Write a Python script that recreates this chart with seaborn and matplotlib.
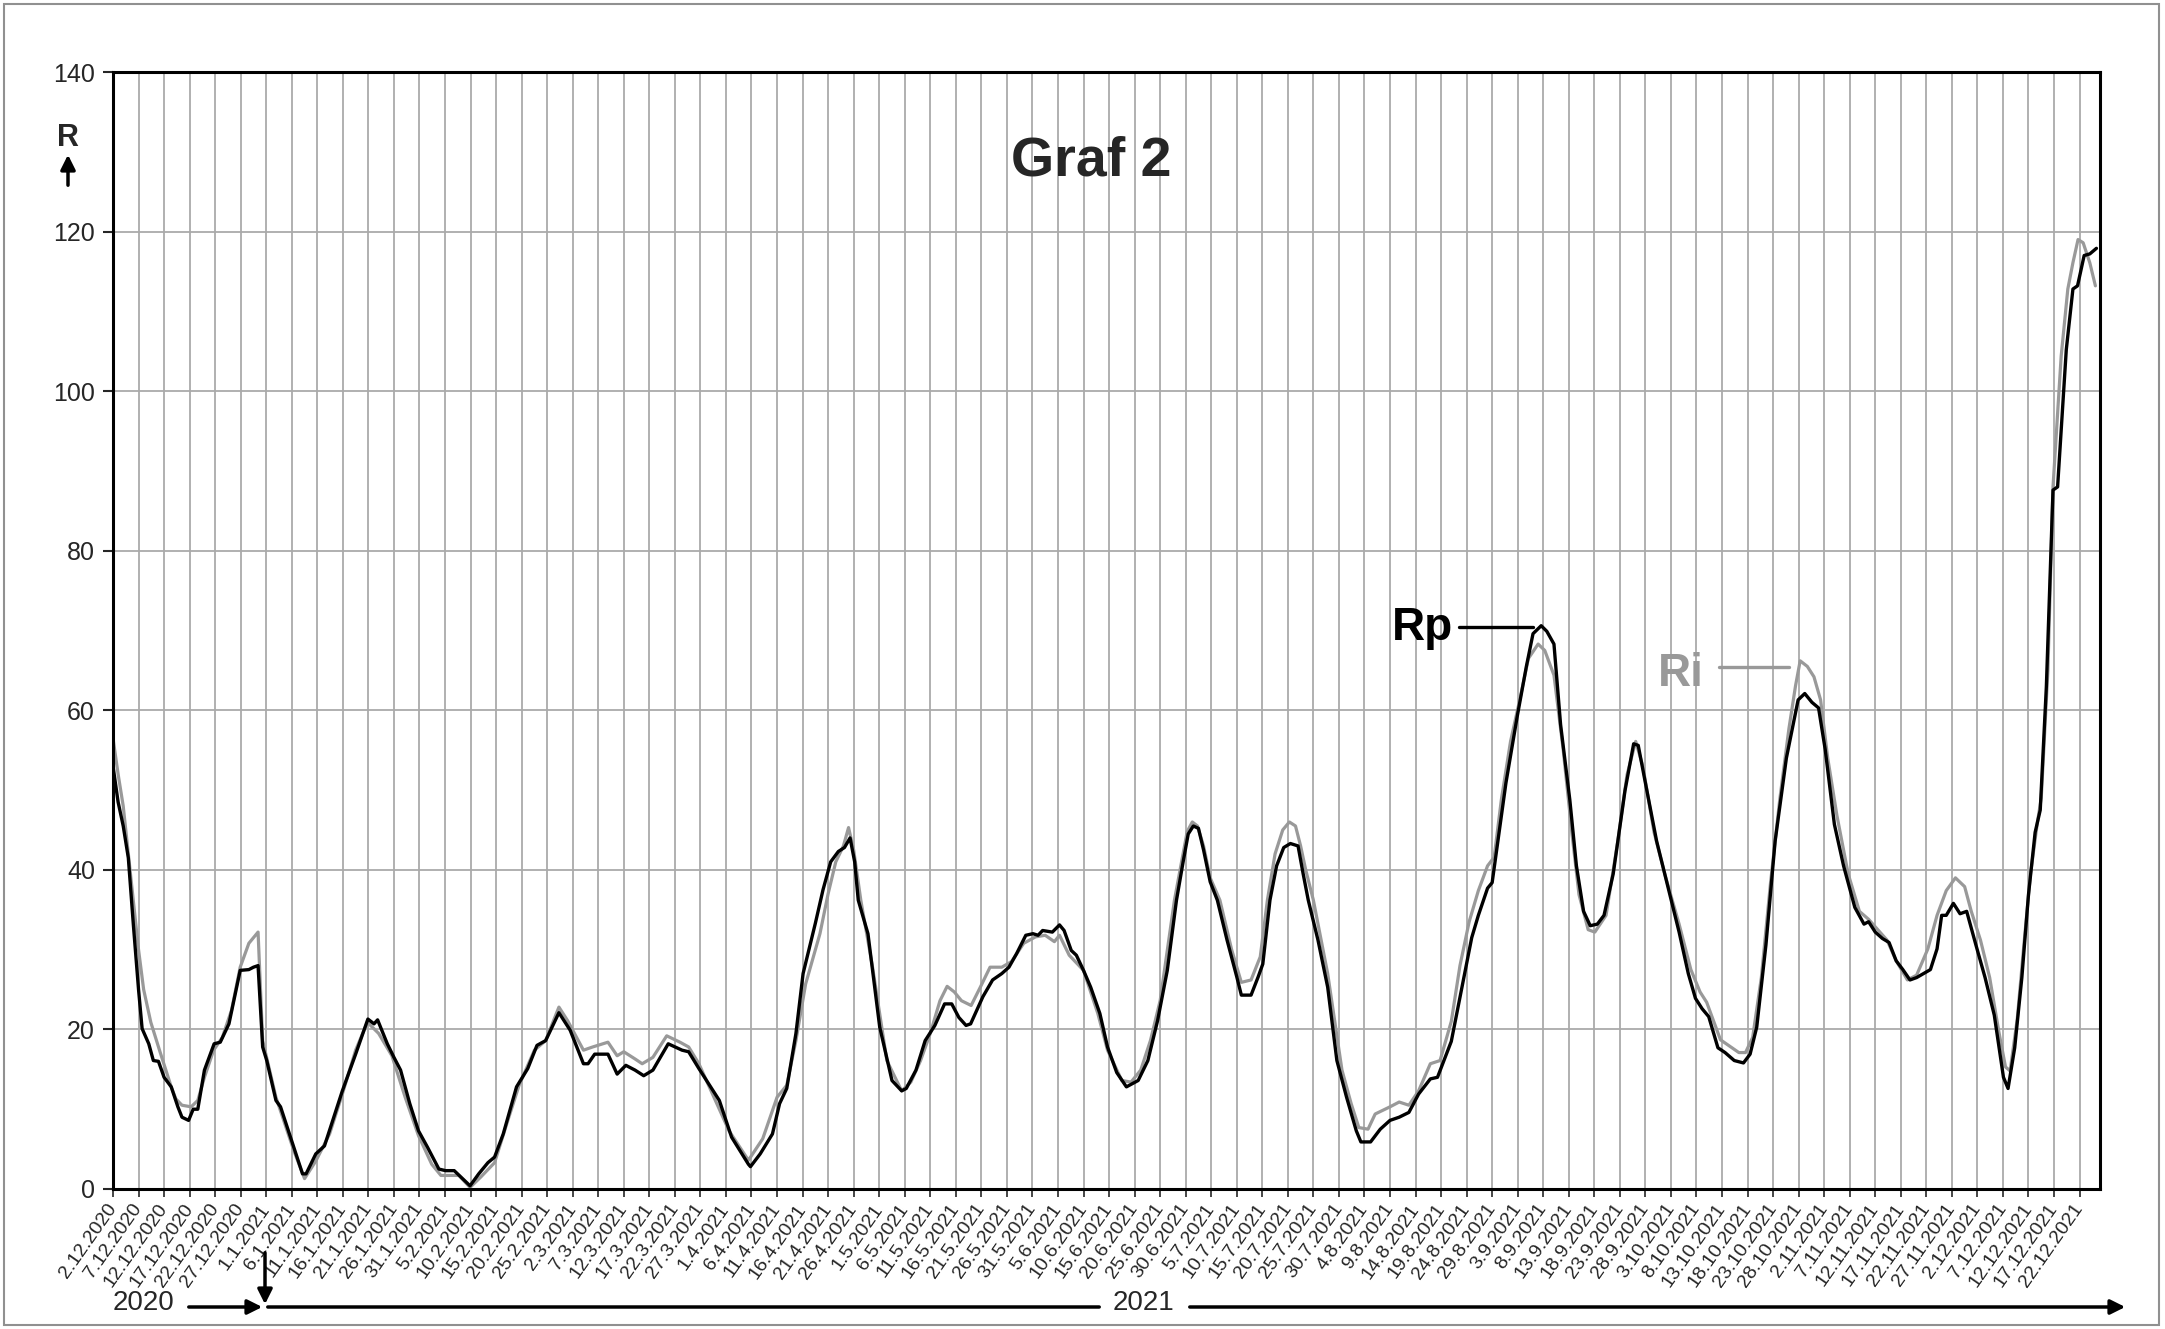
import pandas as pd
import matplotlib.pyplot as plt
from matplotlib.patches import Rectangle
import seaborn as sns

# day offsets from 2.12.2020 and values
start = pd.Timestamp('2020-12-02')

rp_day = [0, 1, 2, 3, 4, 5, 5.7, 7, 7.9, 8.9, 10, 11.4, 12.7, 13.5, 14.8, 15.7, 16.6, 17.9,
          19.8, 21, 22.7, 24.9, 26.6, 27.5, 28.4, 29.3, 30.1, 31.9, 32.8, 35.4, 37.1, 37.8,
          39.7, 41.4, 44.9, 47.5, 49.9, 51.1, 51.8, 53.7, 55, 56.3, 58.1, 59.8, 61.6, 63.8,
          65.1, 66.8, 68.1, 69.9, 71.6, 73.4, 74.7, 76.4, 79, 81.2, 83, 84.7, 87.3, 89.5,
          92.1, 93, 94.3, 96.9, 98.7, 100.4, 102.2, 103.9, 105.7, 108.7, 111.4, 112.7, 114.7,
          118.7, 121.1, 124.4, 124.8, 126.7, 129.1, 130.5, 131.9, 133.7, 135.1, 137.5, 139,
          140.5, 142, 143.2, 144.3, 145.2, 145.9, 147.8, 150.1, 152.5, 154.4, 155.3, 157.2,
          159, 160.9, 162.8, 164.2, 165.6, 167, 167.9, 170.3, 172.2, 174, 175.4, 176.9, 178.7,
          180.1, 181.1, 182, 183.9, 185.3, 186.2, 187.6, 188.6, 190, 191.4, 193.2, 194.7,
          196.5, 198.4, 200.7, 202.6, 204.5, 206.4, 208.2, 209.5, 210.5, 211.5, 212.5, 213.5,
          214.8, 216.2, 218.1, 220, 220.9, 222.8, 224.2, 225.1, 226.5, 227.8, 229.2, 230.5,
          232, 233, 234, 235.9, 237.8, 239.6, 241.5, 243.4, 244.3, 246.2, 248.1, 250, 251.8,
          253.7, 255.6, 257.9, 259.3, 262, 264, 266, 267.3, 269.1, 270, 270.9, 272.7, 274.9,
          276.7, 278, 279.6, 280.7, 282.1, 283.4, 285.2, 286.5, 287.9, 289.2, 290.6, 291.9,
          293.7, 296, 297.7, 298.6, 300, 302.2, 304.4, 306.6, 308.4, 309.8, 311.1, 312.4,
          314.2, 315.6, 317.4, 319.2, 320.5, 321.8, 323.6, 325.4, 327.6, 329.9, 331.2, 332.6,
          333.9, 335.2, 337, 338.8, 341, 342.8, 343.7, 345, 346.4, 347.7, 349.1, 350.4, 351.8,
          353.1, 355.8, 357.1, 358, 358.9, 360.3, 361.6, 362.9, 364.7, 366.5, 368.3, 370.1,
          371, 372.3, 373.7, 375, 376.3, 377.3, 378.5, 379.8, 380.7, 382.4, 383.7, 384.6,
          385.9, 387, 388.3]
rp_val = [53, 48.5, 45.5, 41.5, 33, 25, 20.1, 18.2, 16.1, 16.0, 14, 12.8, 10.3, 9.0, 8.6, 10, 10,
          14.9, 18.2, 18.4, 20.7, 27.4, 27.5, 27.8, 28.0, 17.8, 16.1, 11.1, 10.3, 5.2, 1.9, 1.9,
          4.4, 5.4, 12.3, 16.9, 21.3, 20.7, 21.2, 18.2, 16.5, 14.9, 10.7, 7.3, 5.2, 2.5, 2.3,
          2.3, 1.5, 0.4, 1.9, 3.3, 4.0, 6.9, 12.8, 15.1, 18.0, 18.6, 22.1, 19.9, 15.7, 15.7,
          16.9, 16.9, 14.4, 15.5, 14.9, 14.2, 14.9, 18.2, 17.4, 17.2, 15.1, 11.1, 6.5, 3.1,
          2.8, 4.4, 6.9, 10.7, 12.6, 19.5, 27, 33.3, 37.5, 41, 42.3, 42.8, 44, 41, 36.2, 32,
          20.3, 13.6, 12.3, 12.6, 14.9, 18.6, 20.5, 23.2, 23.2, 21.5, 20.5, 20.7, 24.1, 26.2,
          27, 27.8, 29.5, 31.8, 32, 31.8, 32.4, 32.2, 33.1, 32.4, 29.9, 29.3, 27.4, 25.3, 22,
          17.8, 14.6, 12.8, 13.6, 16.1, 21.1, 27.4, 36.2, 41, 44.5, 45.5, 45.2, 42.5, 38.5,
          36.2, 31.2, 26.6, 24.3, 24.3, 26.6, 28.2, 36.2, 40.5, 42.8, 43.3, 43, 39.5, 36.2,
          31.2, 25.3, 16.1, 11.5, 7.3, 5.9, 5.9, 7.5, 8.6, 9.0, 9.6, 11.9, 13.8, 14.0, 18.5,
          25, 31.5, 34.3, 37.7, 38.4, 42.6, 50.9, 59.2, 65.5, 69.6, 70.6, 69.9, 68.3, 58.2,
          48.8, 40.5, 34.8, 33, 33.2, 34.3, 39.5, 49.9, 55.8, 55.6, 50.9, 43.6, 37.9, 32.2, 27,
          23.9, 22.6, 21.6, 17.7, 17.1, 16.1, 15.8, 16.9, 20.3, 30.6, 43.6, 54, 61.3, 62.1, 61,
          60.3, 55.1, 45.7, 40.5, 35.3, 33.2, 33.5, 32.2, 31.4, 30.9, 28.6, 27.5, 26.2, 26.5,
          27.5, 30.1, 34.3, 34.3, 35.8, 34.5, 34.8, 30.6, 26.5, 21.8, 14, 12.6, 17.7, 26.5,
          36.9, 44.7, 47.5, 63, 87.6, 88, 105.2, 112.8, 113.2, 117, 117.2, 117.9]

ri_day = [0, 1, 2, 3, 4, 5, 6, 7.4, 9.2, 11.4, 12.3, 13.5, 15.3, 16.6, 17.9, 19.7, 21.4, 23.2,
          24.9, 26.6, 28.4, 29.3, 31.9, 35.4, 37.5, 39.7, 42.4, 44.9, 47.5, 49.8, 52, 54.6,
          57.2, 59.8, 62.4, 64.2, 67.7, 69.9, 72, 74.7, 77.3, 79.5, 82.5, 84.7, 87.3, 89, 92.1,
          93.9, 96.9, 98.7, 100, 102.2, 103.6, 105.7, 108.4, 111, 112.7, 114.7, 120.6, 124.4,
          127.2, 130, 131.9, 133.7, 135.6, 138.4, 140, 141.5, 143, 144, 145, 146.4, 148.7,
          151.5, 154.4, 156.2, 158.1, 160, 161.9, 163.3, 164.7, 166.1, 168, 169.8, 171.7, 174,
          175.9, 178.3, 180.6, 182.5, 184.3, 185.3, 187.2, 190, 192.8, 194.7, 197.5, 199.3,
          201.2, 203.1, 205, 207.8, 209.2, 210.3, 211.3, 212.3, 213.5, 214.8, 216.7, 219,
          220.9, 222.8, 224.6, 226, 227.5, 229, 230.3, 231.5, 232.5, 233.5, 235, 237.8, 240.6,
          242.4, 243.9, 245.7, 247.1, 250, 251.8, 253.7, 255.6, 257.9, 259.8, 262, 263.7,
          265.5, 267.3, 269.1, 270.4, 271.8, 273.6, 275.4, 277.1, 279, 280.3, 282.1, 283.9,
          285.6, 287, 288.8, 290.1, 292.3, 294.6, 296.4, 298.1, 299.5, 301.7, 304, 306.6,
          308.9, 310.7, 312, 314.7, 316.5, 318.3, 319.6, 321, 322.7, 324.5, 326.3, 328.1,
          329.4, 330.3, 331.7, 333, 334.3, 335.7, 337.5, 339.7, 341.9, 343.7, 345.5, 347.3,
          349.1, 351.3, 353.1, 355.3, 357.1, 358.9, 360.7, 362.5, 363.8, 365.6, 367.4, 369.2,
          370.5, 371.4, 372.8, 374.1, 375.4, 376.8, 377.5, 378.8, 379.8, 381.4, 382.7, 383.7,
          384.7, 385.7, 387, 388.1]
ri_val = [56.5, 52, 48, 42, 36, 30, 25, 20.9, 17.2, 12.8, 11.3, 10.5, 10.3, 11.1, 14.0, 17.4,
          19, 22.4, 27.8, 30.8, 32.2, 18.6, 11.5, 4.8, 1.3, 3.5, 6.9, 11.9, 17.4, 20.9, 19.5,
          16.7, 11.5, 6.7, 3.1, 1.7, 1.7, 0.2, 1.5, 3.3, 8.6, 13, 17.4, 18.6, 22.8, 21.1, 17.4,
          17.8, 18.4, 16.7, 17.2, 16.3, 15.7, 16.5, 19.2, 18.4, 17.8, 15.7, 7.3, 3.6, 6.3,
          11.5, 13, 18.6, 25.7, 32, 37, 41, 43, 45.3, 42.5, 36.2, 27.8, 16.1, 12.3, 13.4, 16.1,
          19.5, 23.6, 25.4, 24.7, 23.6, 23, 25.3, 27.8, 27.8, 28.5, 30.8, 31.6, 31.8, 31, 31.8,
          29.3, 27.4, 22, 17.4, 13.6, 13.4, 14.9, 18.6, 23.6, 36.2, 41, 44.8, 46, 45.5, 43, 39,
          36.2, 30, 25.9, 26.2, 29.1, 36.2, 42, 45, 46, 45.5, 43, 40, 36.2, 27, 14.9, 10.7,
          7.7, 7.5, 9.4, 10.3, 10.9, 10.5, 12.3, 15.7, 16.1, 21, 28, 33.5, 37.4, 40.5, 41.6,
          48.8, 56.1, 61.3, 66.5, 68.3, 67.5, 64.4, 55.1, 44.7, 36.9, 32.5, 32.2, 34.3, 43.6,
          51.9, 56.1, 53, 44.7, 39, 33.2, 27.5, 24.7, 23.4, 18.7, 17.9, 17.1, 17.1, 19, 26.5,
          38.4, 48.8, 57.7, 63.1, 66.2, 65.5, 64.2, 61.3, 54, 46.8, 39.5, 34.8, 33.8, 32.5,
          31.2, 28.6, 26.2, 26.8, 30.1, 34.3, 37.4, 39, 37.9, 34.8, 31.2, 26.5, 19.7, 15.3,
          14.8, 21.3, 30.6, 39.5, 46.2, 49, 65, 88, 104.4, 112.8, 116.1, 119, 118.6, 116.1,
          113.2]

y_ticks = [0, 20, 40, 60, 80, 100, 120, 140]

sns.set_style('white')
plt.rcParams['font.family'] = ['Liberation Sans', 'DejaVu Sans']

rp = pd.DataFrame({'date': start + pd.to_timedelta(rp_day, unit='D'), 'R': rp_val})
ri = pd.DataFrame({'date': start + pd.to_timedelta(ri_day, unit='D'), 'R': ri_val})
tick_dates = pd.date_range(start, periods=78, freq='5D')

W, H = 2165, 1329
fig = plt.figure(figsize=(W / 100, H / 100), dpi=100)
ax = fig.add_axes([113 / W, 1 - 1189 / H, (2100 - 113) / W, (1189 - 72) / H])


def fx(px):
    return px / W


def fy(py):
    return 1 - py / H


sns.lineplot(data=ri, x='date', y='R', ax=ax, color='#999999', lw=2.3, sort=False)
sns.lineplot(data=rp, x='date', y='R', ax=ax, color='black', lw=2.4, sort=False)

ax.set_xlim(start, start + pd.Timedelta(days=389))
ax.set_ylim(0, 140)
ax.set_yticks(y_ticks)
ax.set_xticks(tick_dates)
ax.set_xticklabels([f'{d.day}.{d.month}.{d.year}' for d in tick_dates],
                   rotation=55, ha='right', va='center', rotation_mode='anchor', fontsize=14)
ax.tick_params(axis='y', labelsize=18, length=7, width=1.5, direction='out', left=True, pad=6)
ax.tick_params(axis='x', length=6, width=1.2, direction='out', bottom=True, pad=6)
ax.set_xlabel('')
ax.set_ylabel('')
ax.grid(True, color='#aaaaaa', lw=1.3)
ax.set_axisbelow(True)
for s in ax.spines.values():
    s.set_color('black')
    s.set_linewidth(2.2)

# series labels with leader lines
ax.text(start + pd.Timedelta(days=262.3), 68.8, 'Rp', ha='right', va='baseline',
        fontsize=33, fontweight='bold', color='black')
ax.plot([start + pd.Timedelta(days=263.5), start + pd.Timedelta(days=278)], [70.5, 70.5],
        color='black', lw=2.4)
ax.text(start + pd.Timedelta(days=311.5), 63.1, 'Ri', ha='right', va='baseline',
        fontsize=33, fontweight='bold', color='#999999')
ax.plot([start + pd.Timedelta(days=314.5), start + pd.Timedelta(days=328.2)], [65.4, 65.4],
        color='#999999', lw=2.4)

fig.text(fx(1091), fy(161), 'Graf 2', ha='center', va='center', fontsize=40, fontweight='bold')
fig.text(fx(68), fy(138), 'R', ha='center', va='center', fontsize=22, fontweight='bold')
ax.annotate('', xy=(fx(68), fy(152)), xytext=(fx(68), fy(188)), xycoords='figure fraction',
            arrowprops=dict(arrowstyle='-|>', lw=2.5, color='black', mutation_scale=22),
            annotation_clip=False)

# year bar at the bottom
fig.text(fx(144), fy(1303), '2020', ha='center', va='center', fontsize=20)
fig.text(fx(1143), fy(1303), '2021', ha='center', va='center', fontsize=20)
ax.annotate('', xy=(fx(265), fy(1307)), xytext=(fx(186), fy(1307)), xycoords='figure fraction',
            arrowprops=dict(arrowstyle='-|>', lw=2.5, color='black', mutation_scale=22),
            annotation_clip=False)
ax.annotate('', xy=(fx(265), fy(1307)), xytext=(fx(265), fy(1250)), xycoords='figure fraction',
            arrowprops=dict(arrowstyle='-|>', lw=2.5, color='black', mutation_scale=22),
            annotation_clip=False)
ax.annotate('', xy=(fx(1102), fy(1307)), xytext=(fx(265), fy(1307)), xycoords='figure fraction',
            arrowprops=dict(arrowstyle='-', lw=2.5, color='black'), annotation_clip=False)
ax.annotate('', xy=(fx(2128), fy(1307)), xytext=(fx(1187), fy(1307)), xycoords='figure fraction',
            arrowprops=dict(arrowstyle='-|>', lw=2.5, color='black', mutation_scale=22),
            annotation_clip=False)

fig.patches.append(Rectangle((0.002, 0.003), 0.995, 0.994, transform=fig.transFigure,
                             fill=False, ec='#909090', lw=1.5))

fig.savefig('out.png', dpi=100)
